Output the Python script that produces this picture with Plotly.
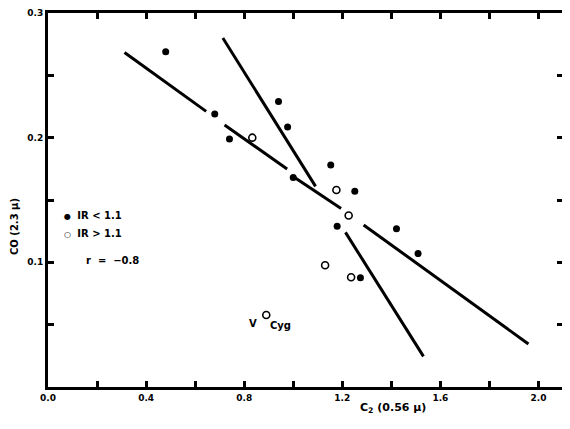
import plotly.graph_objects as go

# Data
ir_lt_x = [0.48, 0.68, 0.74, 0.94, 0.977, 1.00, 1.153, 1.179, 1.251, 1.421, 1.509, 1.274]
ir_lt_y = [0.269, 0.219, 0.199, 0.229, 0.2086, 0.168, 0.178, 0.129, 0.157, 0.127, 0.107, 0.0876]

ir_gt_x = [0.833, 1.176, 1.226, 1.130, 1.236]
ir_gt_y = [0.200, 0.158, 0.1376, 0.0977, 0.088]

vcyg_x = [0.890]
vcyg_y = [0.0578]

# Fit line segments (drawn with gaps as in the original)
lineA_x = [0.312, 0.645, None, 0.720, 0.975, None, 1.001, 1.195, None, 1.287, 1.959]
lineA_y = [0.2683, 0.2211, None, 0.2102, 0.1749, None, 0.1687, 0.1432, None, 0.130, 0.0345]
lineB_x = [0.713, 1.091, None, 1.213, 1.531]
lineB_y = [0.280, 0.1609, None, 0.124, 0.0246]

x_ticks = [0.0, 0.2, 0.4, 0.6, 0.8, 1.0, 1.2, 1.4, 1.6, 1.8, 2.0]
x_ticklabels = ["0.0", "", "0.4", "", "0.8", "", "1.2", "", "1.6", "", "2.0"]
y_ticks = [0.0, 0.05, 0.1, 0.15, 0.2, 0.25, 0.3]
y_ticklabels = ["", "", "0.1", "", "0.2", "", "0.3"]

legend_labels = ["IR < 1.1", "IR > 1.1"]

FONT = "DejaVu Sans"

fig = go.Figure()
fig.add_trace(go.Scatter(x=lineA_x, y=lineA_y, mode="lines",
                         line=dict(color="black", width=3), showlegend=False, hoverinfo="skip"))
fig.add_trace(go.Scatter(x=lineB_x, y=lineB_y, mode="lines",
                         line=dict(color="black", width=3), showlegend=False, hoverinfo="skip"))
fig.add_trace(go.Scatter(x=ir_lt_x, y=ir_lt_y, mode="markers", name=legend_labels[0],
                         showlegend=False,
                         marker=dict(symbol="circle", size=7, color="black")))
fig.add_trace(go.Scatter(x=ir_gt_x, y=ir_gt_y, mode="markers", name=legend_labels[1],
                         showlegend=False,
                         marker=dict(symbol="circle-open", size=7, color="black",
                                     line=dict(width=1.6, color="black"))))
fig.add_trace(go.Scatter(x=vcyg_x, y=vcyg_y, mode="markers", name="V Cyg", showlegend=False,
                         marker=dict(symbol="circle-open", size=7, color="black",
                                     line=dict(width=1.6, color="black"))))

# legend keys drawn as text
fig.add_annotation(xref="paper", yref="paper", x=(62 - 48) / 515, y=(387 - 216) / 374,
                   text="<span style='font-size:8px'>\u25cf</span>  <b>%s</b>" % legend_labels[0],
                   showarrow=False, xanchor="left", yanchor="middle",
                   font=dict(family=FONT, size=10, color="black"))
fig.add_annotation(xref="paper", yref="paper", x=(62 - 48) / 515, y=(387 - 233.5) / 374,
                   text="<span style='font-size:8px'>\u25cb</span>  <b>%s</b>" % legend_labels[1],
                   showarrow=False, xanchor="left", yanchor="middle",
                   font=dict(family=FONT, size=10, color="black"))

fig.add_annotation(x=vcyg_x[0], y=vcyg_y[0], text="<b>V</b>", showarrow=False,
                   xanchor="center", yanchor="middle",
                   xshift=-13, yshift=-9, font=dict(family=FONT, size=10, color="black"))
fig.add_annotation(x=vcyg_x[0], y=vcyg_y[0], text="<b>Cyg</b>", showarrow=False,
                   xanchor="left", yanchor="middle", xshift=2, yshift=-11,
                   font=dict(family=FONT, size=10, color="black"))
fig.add_annotation(xref="paper", yref="paper", x=(84 - 48) / 515, y=(387 - 260) / 374,
                   text="<b>r  =  \u22120.8</b>", showarrow=False, xanchor="left", yanchor="middle",
                   font=dict(family=FONT, size=10, color="black"))
fig.add_annotation(xref="paper", yref="paper", x=(393 - 48) / 515, y=(387 - 408) / 374,
                   text="<b>C<sub>2</sub> (0.56 \u03bc)</b>", showarrow=False,
                   xanchor="center", yanchor="middle",
                   font=dict(family=FONT, size=11, color="black"))
fig.add_annotation(xref="paper", yref="paper", x=(14 - 48) / 515, y=(387 - 227) / 374,
                   text="<b>CO (2.3 \u03bc)</b>", showarrow=False, textangle=-90,
                   xanchor="center", yanchor="middle",
                   font=dict(family=FONT, size=10, color="black"))

axis_common = dict(showgrid=False, zeroline=False, showline=True, linecolor="black",
                   linewidth=3, ticks="inside", ticklen=6, tickwidth=3, tickcolor="black",
                   mirror="ticks", tickfont=dict(family=FONT, size=9, color="black"))

fig.update_xaxes(range=[0, 2.1], tickmode="array", tickvals=x_ticks,
                 ticktext=["<b>%s</b>" % t for t in x_ticklabels], **axis_common)
fig.update_yaxes(range=[0, 0.3], tickmode="array", tickvals=y_ticks,
                 ticktext=["<b>%s</b>" % t for t in y_ticklabels], **axis_common)

# page body has an 8px default margin; figure sized to fit the 570x429 window
fig.update_layout(
    width=562, height=421,
    margin=dict(l=40, r=7, t=5, b=42, autoexpand=False),
    paper_bgcolor="white", plot_bgcolor="white",
    showlegend=False,
)

fig.write_html("out.html")
